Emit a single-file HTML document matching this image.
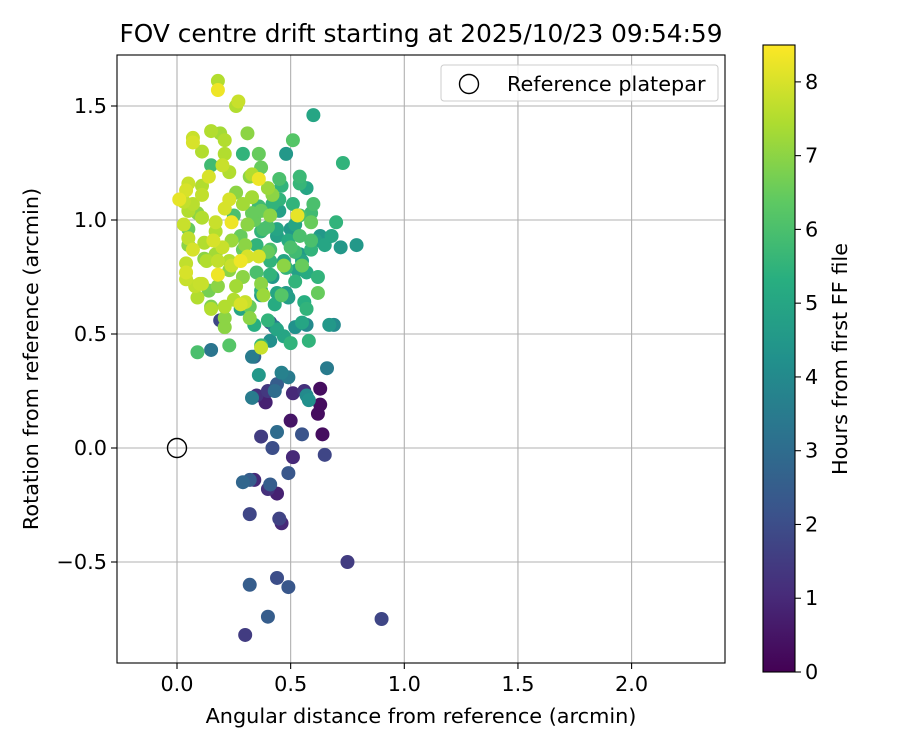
<!DOCTYPE html>
<html><head><meta charset="utf-8"><style>
html,body{margin:0;padding:0;background:#fff}
svg{display:block;font-family:"DejaVu Sans","Liberation Sans",sans-serif}
</style></head><body>
<svg id="chart" width="900" height="750" viewBox="0 0 900 750">
<defs><linearGradient id="vir" x1="0" y1="1" x2="0" y2="0">
<stop offset="0" stop-color="#440154"/><stop offset="0.125" stop-color="#472c7a"/><stop offset="0.25" stop-color="#3b528b"/><stop offset="0.375" stop-color="#2c728e"/><stop offset="0.5" stop-color="#21918c"/><stop offset="0.625" stop-color="#28ae80"/><stop offset="0.75" stop-color="#5ec962"/><stop offset="0.875" stop-color="#addc30"/><stop offset="1" stop-color="#fde725"/></linearGradient></defs>
<text x="421" y="42" text-anchor="middle" font-size="24.8">FOV centre drift starting at 2025/10/23 09:54:59</text>
<g id="grid"></g>
<g id="points"></g>
<rect x="117" y="55" width="608" height="608" fill="none" stroke="#000" stroke-width="1.1"/>
<g id="ticks"></g>
<text x="421" y="723" text-anchor="middle" font-size="20.8">Angular distance from reference (arcmin)</text>
<text transform="translate(38,359) rotate(-90)" text-anchor="middle" font-size="20.8">Rotation from reference (arcmin)</text>
<g>
<rect x="441" y="65" width="277" height="36" rx="3" fill="#fff" fill-opacity="0.8" stroke="#ccc"/>
<circle cx="469" cy="84" r="9.5" fill="none" stroke="#000" stroke-width="1.4"/>
<text x="507" y="91" font-size="20.8">Reference platepar</text>
</g>
<rect x="763" y="45" width="32" height="627" fill="url(#vir)" stroke="#000" stroke-width="1.1"/>
<g id="cticks"></g>
<text transform="translate(847,359) rotate(-90)" text-anchor="middle" font-size="20.8">Hours from first FF file</text>
</svg>
<script>
const xTicks=[0,0.5,1,1.5,2];
const xTickLabels=["0.0","0.5","1.0","1.5","2.0"];
const yTicks=[-0.5,0,0.5,1,1.5];
const yTickLabels=["\u22120.5","0.0","0.5","1.0","1.5"];
const cTicks=[0,1,2,3,4,5,6,7,8];
const refPoint=[0,0];
const xs=[0.30,0.40,0.32,0.49,0.44,0.75,0.90,0.32,0.45,0.46,0.44,0.29,0.32,0.34,0.40,0.41,0.49,0.51,0.65,0.42,0.37,0.44,0.55,0.64,0.50,0.62,0.63,0.63,0.66,0.39,0.35,0.33,0.40,0.43,0.44,0.49,0.51,0.56,0.57,0.58,0.46,0.34,0.33,0.36,0.15,0.23,0.37,0.37,0.09,0.19,0.21,0.41,0.43,0.47,0.50,0.57,0.67,0.58,0.48,0.37,0.30,0.28,
0.18,0.18,0.26,0.27,0.31,0.19,0.29,0.36,0.48,0.60,0.51,0.73,0.15,0.21,0.07,0.07,0.11,0.15,0.20,0.21,0.14,0.05,0.11,0.01,0.04,0.03,0.07,0.11,0.23,0.32,0.37,0.33,0.36,0.40,0.45,0.46,0.54,0.54,0.57,0.42,0.45,0.51,0.53,0.60,0.59,0.59,0.23,0.29,0.21,0.24,0.17,0.11,0.05,0.09,0.03,0.05,0.17,0.31,0.34,0.37,0.40,0.44,0.49,0.54,0.59,0.61,0.65,0.72,0.79,0.70,0.16,0.12,0.05,0.07,0.12,0.17,0.24,0.28,0.29,0.35,0.40,0.41,0.36,0.31,0.28,0.23,0.18,0.13,0.04,0.24,0.29,0.35,0.41,0.47,0.47,0.53,0.55,0.55,0.57,0.62,0.52,0.50,0.59,0.41,0.37,0.38,0.37,0.46,0.44,0.43,0.49,0.56,0.57,0.52,0.62,0.26,0.09,0.08,0.10,0.18,0.15,0.15,0.25,0.28,0.21,0.32,0.42,0.48,0.23,0.32,0.44,0.40,0.34,0.41,0.55,0.52,0.21,0.30,0.18,0.11,0.04,0.04,0.14,0.05,0.20,0.37,0.33,0.41,0.36,0.33,0.26,0.25,0.42,0.45,0.38,0.44,0.50,0.52,0.63,0.68,0.54,0.54,0.69];
const ys=[-0.82,-0.74,-0.60,-0.61,-0.57,-0.50,-0.75,-0.29,-0.31,-0.33,-0.20,-0.15,-0.14,-0.14,-0.18,-0.16,-0.11,-0.04,-0.03,0.00,0.05,0.07,0.06,0.06,0.12,0.15,0.19,0.26,0.35,0.20,0.23,0.22,0.25,0.25,0.28,0.31,0.24,0.25,0.23,0.21,0.33,0.40,0.40,0.32,0.43,0.45,0.44,0.45,0.42,0.56,0.53,0.55,0.53,0.49,0.46,0.54,0.54,0.47,0.68,0.67,0.64,0.61,
1.61,1.57,1.50,1.52,1.38,1.38,1.29,1.29,1.29,1.46,1.35,1.25,1.39,1.35,1.36,1.34,1.30,1.24,1.24,1.29,1.19,1.16,1.11,1.09,1.13,1.08,1.07,1.15,1.21,1.19,1.23,1.20,1.18,1.14,1.18,1.15,1.19,1.16,1.14,1.11,1.09,1.07,1.02,1.07,1.03,0.99,1.09,1.07,1.05,0.99,0.99,1.01,1.04,1.03,0.98,0.96,0.95,0.98,1.00,0.95,0.97,0.93,0.91,0.93,0.91,0.91,0.89,0.88,0.89,0.99,0.91,0.90,0.92,0.87,0.83,0.85,0.91,0.93,0.87,0.89,0.86,0.82,0.84,0.84,0.82,0.82,0.82,0.82,0.81,0.80,0.75,0.77,0.76,0.80,0.82,0.78,0.80,0.82,0.77,0.75,0.86,0.88,0.87,0.87,0.72,0.67,0.69,0.67,0.68,0.63,0.66,0.64,0.61,0.73,0.68,0.71,0.66,0.71,0.72,0.71,0.62,0.61,0.65,0.63,0.57,0.57,0.75,0.79,0.78,0.62,0.52,0.56,0.54,0.47,0.55,0.53,0.62,0.89,0.76,0.72,0.77,0.74,0.69,0.89,0.88,1.04,1.10,1.02,1.06,1.03,1.12,1.02,1.07,1.04,0.96,0.96,0.96,0.98,0.93,0.93,1.02,0.85,0.54];
const hrs=[1.5,2.5,2.5,2.3,2.0,1.5,1.8,1.8,1.7,1.0,0.8,2.8,2.5,1.0,1.2,2.5,2.3,1.0,1.8,2.0,1.5,3.0,2.2,0.3,0.5,0.3,0.3,0.3,3.5,0.8,1.2,3.5,1.4,3.0,2.5,3.5,1.0,1.2,4.0,4.2,3.7,2.8,3.5,4.5,3.3,6.2,7.8,5.6,6.0,1.8,7.0,2.0,3.6,5.0,5.5,4.0,4.5,5.5,4.6,4.5,7.8,5.0,
7.5,8.3,7.5,7.8,7.0,7.3,5.5,6.5,4.5,5.0,6.2,5.5,7.5,7.5,7.8,8.0,7.5,5.8,7.8,7.5,8.0,7.8,7.7,8.2,8.0,7.7,7.6,7.5,7.5,7.0,6.5,7.5,8.3,7.2,6.0,5.5,5.7,5.6,5.0,7.0,5.5,5.5,8.2,6.0,5.8,6.5,8.0,7.3,8.0,8.3,7.8,7.5,7.5,7.0,7.8,6.5,7.5,7.0,6.5,5.5,6.0,4.8,5.2,6.0,6.0,4.8,5.0,4.5,4.5,5.5,8.0,7.5,7.7,8.0,7.0,7.3,7.2,6.5,6.5,5.5,6.5,5.5,8.0,8.0,8.3,7.5,7.7,7.5,7.7,7.8,7.0,6.0,5.5,7.0,5.0,4.8,6.5,5.0,5.2,5.5,5.8,6.0,5.5,6.0,7.0,7.2,5.4,6.2,5.0,5.2,4.7,5.3,5.5,5.5,6.5,7.3,7.5,7.7,7.8,7.0,6.8,7.5,7.5,8.0,7.0,7.0,4.5,5.5,7.0,6.5,5.0,5.5,5.3,4.2,5.0,4.3,7.5,7.0,8.3,7.8,8.0,7.8,6.7,7.0,7.8,6.5,7.3,7.0,5.8,6.5,7.0,6.0,5.5,4.8,6.0,5.0,4.5,5.0,4.5,5.0,6.0,4.6,4.0];

const NS="http://www.w3.org/2000/svg";
const X=v=>177+v*227.3, Y=v=>448-v*228, C=h=>672-h*(627/8.5);
const vir=[[68,1,84],[71,44,122],[59,82,139],[44,114,142],[33,145,140],[40,174,128],[94,201,98],[173,220,48],[253,231,37]];
function col(h){let t=Math.max(0,Math.min(1,h/8.5))*8,i=Math.min(7,Math.floor(t)),f=t-i;
 const c=vir[i].map((a,k)=>Math.round(a+(vir[i+1][k]-a)*f));return `rgb(${c})`;}
function mk(tag,attrs,parent){const e=document.createElementNS(NS,tag);for(const k in attrs)e.setAttribute(k,attrs[k]);parent.appendChild(e);return e;}
const grid=document.getElementById('grid'),ticks=document.getElementById('ticks'),pts=document.getElementById('points'),ct=document.getElementById('cticks');
xTicks.forEach((v,i)=>{
 const g=mk('line',{x1:X(v),x2:X(v),y1:55,y2:663,stroke:'#b0b0b0','stroke-width':1.1},grid);
 
 
 mk('line',{x1:X(v),x2:X(v),y1:663,y2:669,stroke:'#000','stroke-width':1.1},ticks);
 const t=mk('text',{x:X(v),y:691,'text-anchor':'middle','font-size':20.8},ticks);t.textContent=xTickLabels[i];
 
 
});
yTicks.forEach((v,i)=>{
 const g=mk('line',{x1:117,x2:725,y1:Y(v),y2:Y(v),stroke:'#b0b0b0','stroke-width':1.1},grid);
 
 
 mk('line',{x1:111,x2:117,y1:Y(v),y2:Y(v),stroke:'#000','stroke-width':1.1},ticks);
 const t=mk('text',{x:107,y:Y(v)+7,'text-anchor':'end','font-size':20.8},ticks);t.textContent=yTickLabels[i];
 
 
});
cTicks.forEach(v=>{
 mk('line',{x1:795,x2:801,y1:C(v),y2:C(v),stroke:'#000','stroke-width':1.1},ct);
 const t=mk('text',{x:805,y:C(v)+7,'font-size':20.8},ct);t.textContent=String(v);
 
 
});
const idx=xs.map((_,i)=>i).sort((a,b)=>hrs[a]-hrs[b]);
idx.forEach(i=>{
 const c=mk('circle',{cx:X(xs[i]),cy:Y(ys[i]),r:7,fill:col(hrs[i])},pts);
 
 
});
const r=mk('circle',{cx:X(refPoint[0]),cy:Y(refPoint[1]),r:9.5,fill:'none',stroke:'#000','stroke-width':1.4},pts);


</script>
</body></html>
